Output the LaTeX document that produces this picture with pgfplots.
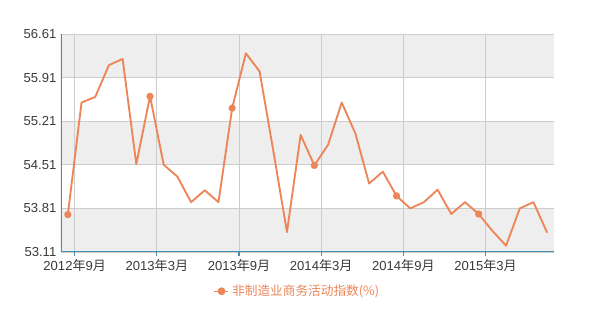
\documentclass[border=0pt]{standalone}
\usepackage{pgfplots}
\pgfplotsset{compat=1.18}
\usepackage{fontspec}
\setmainfont{Liberation Sans}
\newfontfamily\cjk{Noto Sans CJK SC}
\definecolor{lineor}{HTML}{EC8558}
\definecolor{band}{HTML}{EEEEEE}
\definecolor{gridc}{HTML}{CCCCCC}
\definecolor{axblue}{HTML}{4A8DB7}
\definecolor{ticktxt}{HTML}{3A3A3A}
\begin{document}
\begin{tikzpicture}[x=0.75pt,y=0.75pt]
\begin{axis}[
  set layers,
  at={(0,0)}, anchor=south west,
  scale only axis,
  width=369.75pt, height=163.5pt,
  xmin=-0.5, xmax=35.5,
  ymin=53.11, ymax=56.61,
  xtick={0.5,6.5,12.5,18.5,24.5,30.5},
  xticklabels={2012{\cjk 年}9{\cjk 月},2013{\cjk 年}3{\cjk 月},2013{\cjk 年}9{\cjk 月},2014{\cjk 年}3{\cjk 月},2014{\cjk 年}9{\cjk 月},2015{\cjk 年}3{\cjk 月}},
  ytick={53.11,53.81,54.51,55.21,55.91,56.61},
  tick label style={font=\fontsize{9.8}{11}\selectfont, text=ticktxt},
  xticklabel style={yshift=1pt},
  yticklabel style={xshift=3pt},
  yticklabel={\pgfmathprintnumber[fixed,fixed zerofill,precision=2,assume math mode=true]{\tick}},
  grid=major,
  major grid style={gridc, line width=0.6pt},
  axis line style={draw=none},
  major tick length=3pt,
  xtick pos=bottom,
  xtick style={draw=axblue, line width=0.8pt},
  ytick style={draw=none},
  tick align=outside,
  legend style={at={(axis description cs:0.48,-0.18)}, anchor=center, draw=none, fill=none,
    font=\fontsize{9.5}{11}\selectfont\cjk, text=lineor},
  legend image code/.code={
    \draw[lineor, line width=1pt, dash pattern=on 2.5pt off 1.5pt] (0pt,0pt) -- (11pt,0pt);
    \fill[lineor] (5.5pt,0pt) circle (2.2pt);
  },
]
\begin{pgfonlayer}{axis background}
\fill[band] (axis cs:-0.5,55.91) rectangle (axis cs:35.5,56.61);
\fill[band] (axis cs:-0.5,54.51) rectangle (axis cs:35.5,55.21);
\fill[band] (axis cs:-0.5,53.11) rectangle (axis cs:35.5,53.81);
\end{pgfonlayer}
\draw[gridc, line width=0.6pt] (axis cs:-0.5,56.61) -- (axis cs:35.5,56.61) -- (axis cs:35.5,53.11);
\addplot[lineor, line width=1.4pt, line join=round, mark=*, mark size=2pt, mark repeat=6, mark options={fill=lineor, draw=lineor}] coordinates {
(0,53.71) (1,55.51) (2,55.60) (3,56.11) (4,56.21) (5,54.52) (6,55.61) (7,54.51)
(8,54.32) (9,53.91) (10,54.10) (11,53.91) (12,55.42) (13,56.30) (14,56.01) (15,54.74)
(16,53.43) (17,54.99) (18,54.50) (19,54.83) (20,55.51) (21,55.01) (22,54.21) (23,54.40)
(24,54.01) (25,53.81) (26,53.91) (27,54.11) (28,53.72) (29,53.91) (30,53.72) (31,53.45)
(32,53.21) (33,53.81) (34,53.91) (35,53.42)
};
\addlegendentry{非制造业商务活动指数(\%)}
\draw[axblue, line width=1.2pt] (axis cs:-0.5,56.61) -- (axis cs:-0.5,53.11) -- (axis cs:35.5,53.11);
\end{axis}
\useasboundingbox (-61,-68) rectangle (539,252);
\end{tikzpicture}
\end{document}
